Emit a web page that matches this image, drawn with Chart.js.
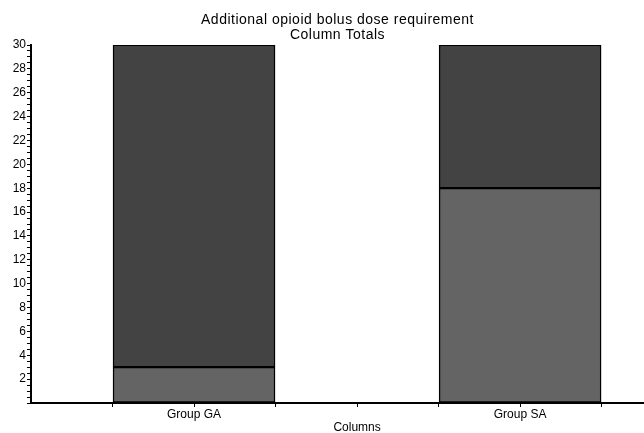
<!DOCTYPE html>
<html>
<head>
<meta charset="utf-8">
<script src="https://cdn.jsdelivr.net/npm/chart.js@4"></script>
<style>
  html, body { margin: 0; padding: 0; background: #fff; }
  #wrap { width: 644px; height: 433px; }
</style>
</head>
<body>
<div id="wrap"><canvas id="chart" width="644" height="433"></canvas></div>
<script>
// ===== DATA =====
const groups = ['Group GA', 'Group SA'];
const groupPos = [1, 2];
const lowerPart = [3, 18];
const upperPart = [27, 12];
const titleLines = ['Additional opioid bolus dose requirement', 'Column Totals'];
const xTitle = 'Columns';

const FONT = '"Liberation Sans", Arial, sans-serif';

// Title + x-axis title drawn centred like the original plot
const textPlugin = {
  id: 'texts',
  afterDraw(chart) {
    const { ctx, chartArea } = chart;
    const x = chart.scales.x;
    ctx.save();
    ctx.fillStyle = '#000';
    ctx.textAlign = 'center';
    ctx.textBaseline = 'alphabetic';
    ctx.font = '14px ' + FONT;
    ctx.letterSpacing = '0.5px';
    const cx = (chartArea.left + chartArea.right) / 2;
    ctx.fillText(titleLines[0], cx, 24);
    ctx.fillText(titleLines[1], cx, 39);
    ctx.font = '12px ' + FONT;
    ctx.letterSpacing = '0px';
    ctx.fillText(xTitle, x.getPixelForValue(1.5), 431);
    ctx.restore();
  }
};

new Chart(document.getElementById('chart'), {
  type: 'bar',
  data: {
    datasets: [
      {
        data: groupPos.map((p, i) => ({ x: p, y: lowerPart[i] })),
        backgroundColor: '#646464',
        borderColor: '#000',
        borderWidth: 1.5,
        borderSkipped: false
      },
      {
        data: groupPos.map((p, i) => ({ x: p, y: upperPart[i] })),
        backgroundColor: '#434343',
        borderColor: '#000',
        borderWidth: 1.5,
        borderSkipped: false
      }
    ]
  },
  options: {
    responsive: false,
    animation: false,
    layout: { padding: { top: 45, right: 0, left: 0, bottom: 0 } },
    datasets: { bar: { barThickness: 162 } },
    plugins: { legend: { display: false }, tooltip: { enabled: false }, title: { display: false } },
    scales: {
      x: {
        type: 'linear',
        stacked: true,
        offset: false,
        min: 0.5,
        max: 2.38,
        afterFit: s => { s.height = 30; },
        afterBuildTicks: s => {
          const t = [];
          for (let v = 0.75; v <= 2.38; v += 0.25) t.push({ value: v });
          s.ticks = t;
        },
        ticks: {
          autoSkip: false,
          maxRotation: 0,
          color: '#000',
          font: { family: FONT, size: 12 },
          padding: 0,
          callback: v => Math.abs(v - 1) < 1e-6 ? groups[0] : (Math.abs(v - 2) < 1e-6 ? groups[1] : '')
        },
        grid: { offset: false, drawOnChartArea: false, drawTicks: true, tickLength: 4, tickColor: '#000' },
        border: { color: '#000', width: 2 }
      },
      y: {
        stacked: true,
        min: 0,
        max: 30,
        afterFit: s => { s.width = 31; },
        afterBuildTicks: s => {
          const t = [];
          for (let v = 0; v <= 30; v += 0.5) t.push({ value: v });
          s.ticks = t;
        },
        ticks: {
          autoSkip: false,
          color: '#000',
          font: { family: FONT, size: 12 },
          padding: 1,
          callback: v => (v > 0 && v % 2 === 0) ? String(v) : ''
        },
        grid: {
          drawOnChartArea: false,
          drawTicks: true,
          tickLength: 4,
          tickColor: '#000'
        },
        border: { color: '#000', width: 2 }
      }
    }
  },
  plugins: [textPlugin]
});
</script>
</body>
</html>
